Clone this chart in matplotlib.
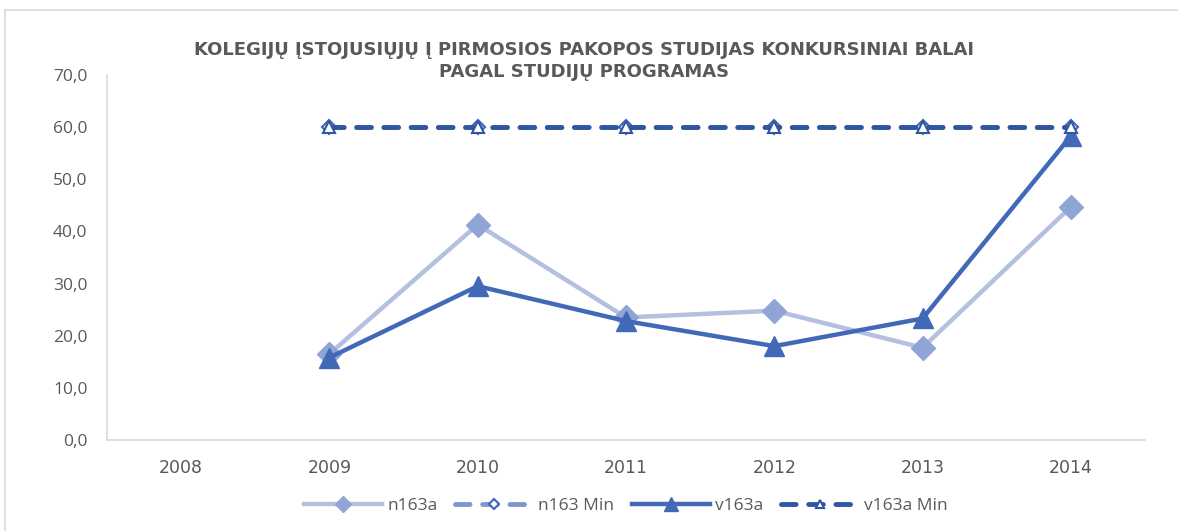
import matplotlib.pyplot as plt
from matplotlib.lines import Line2D

# duomenys
metai = ["2008", "2009", "2010", "2011", "2012", "2013", "2014"]
n163a = [None, 16.5, 41.3, 23.5, 24.8, 17.7, 44.7]
n163_min = [None, 60.0, 60.0, 60.0, 60.0, 60.0, 60.0]
v163a = [None, 15.8, 29.5, 22.8, 18.0, 23.3, 58.3]
v163a_min = [None, 60.0, 60.0, 60.0, 60.0, 60.0, 60.0]

plt.rcParams['font.family'] = ['Open Sans', 'DejaVu Sans']

x = list(range(len(metai)))


def be_tusciu(seq):
    xs = [i for i, v in zip(x, seq) if v is not None]
    ys = [v for v in seq if v is not None]
    return xs, ys


fig = plt.figure(figsize=(11.78, 5.31), dpi=100)
ax = fig.add_axes([0.0908, 0.1714, 0.8812, 0.6874])

# remelis (tik virsus ir kaire matosi)
fig.lines.append(Line2D([0.0045, 1.0], [0.981, 0.981], transform=fig.transFigure,
                        color="#d9d9d9", linewidth=1.2))
fig.lines.append(Line2D([0.0045, 0.0045], [0.0, 0.981], transform=fig.transFigure,
                        color="#d9d9d9", linewidth=1.2))

xs, ys = be_tusciu(n163a)
ax.plot(xs, ys, color="#b4c0e0", linewidth=3.2, marker="D", markersize=12,
        markerfacecolor="#8fa5d6", markeredgecolor="#8fa5d6", label="n163a", zorder=3)

xs, ys = be_tusciu(n163_min)
ax.plot(xs, ys, color="#7f97d0", linewidth=3.5, linestyle=(0, (3, 2.6)), dash_capstyle="round",
        marker="D", markersize=7, markerfacecolor="white", markeredgecolor="#3d64b4",
        markeredgewidth=1.5, label="n163 Min", zorder=4)

xs, ys = be_tusciu(v163a)
ax.plot(xs, ys, color="#4169b8", linewidth=3.2, marker="^", markersize=15,
        markerfacecolor="#4169b8", markeredgecolor="#4169b8", label="v163a", zorder=5)

xs, ys = be_tusciu(v163a_min)
ax.plot(xs, ys, color="#2f56a0", linewidth=3.5, linestyle=(0, (3, 2.6)), dash_capstyle="round",
        marker="^", markersize=9, markerfacecolor="white", markeredgecolor="#2f56a0",
        markeredgewidth=1.5, label="v163a Min", zorder=6)

ax.set_xlim(-0.5, 6.5)
ax.set_ylim(0, 70)
ax.set_xticks(x)
ax.set_xticklabels(metai, family="DejaVu Sans", fontsize=12.5)
ax.set_yticks(range(0, 71, 10))
ax.set_yticklabels([f"{v},0" for v in range(0, 71, 10)])

for s in ["top", "right"]:
    ax.spines[s].set_visible(False)
for s in ["left", "bottom"]:
    ax.spines[s].set_color("#d9d9d9")
    ax.spines[s].set_linewidth(1.2)
ax.tick_params(axis="both", length=0, labelsize=12.5, colors="#595959")
ax.tick_params(axis="x", pad=14)
ax.tick_params(axis="y", pad=14)

fig.text(0.496, 0.885, "KOLEGIJŲ ĮSTOJUSIŲJŲ Į PIRMOSIOS PAKOPOS STUDIJAS KONKURSINIAI BALAI\nPAGAL STUDIJŲ PROGRAMAS",
         ha="center", va="center", fontsize=13, fontweight="bold", color="#595959",
         family="DejaVu Sans", linespacing=1.25)

ax.legend(loc="center", bbox_to_anchor=(0.5, -0.18), ncol=4, frameon=False,
          fontsize=12.5, labelcolor="#595959", handlelength=4.5, columnspacing=1.0,
          handletextpad=0.3, markerscale=0.7)

plt.savefig("out.png", dpi=100)
